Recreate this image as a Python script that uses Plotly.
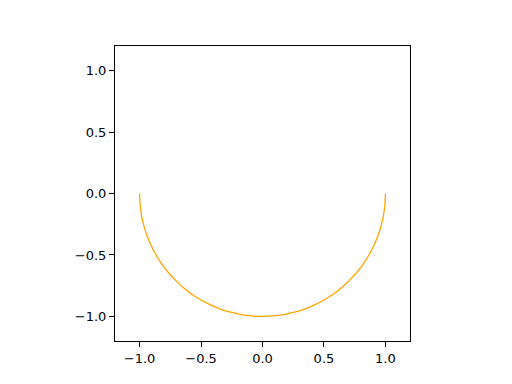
import plotly.graph_objects as go

# Points of the lower semicircle (5-degree steps)
x_vals = [-1.000, -0.996, -0.985, -0.966, -0.940, -0.906, -0.866, -0.819, -0.766, -0.707,
          -0.643, -0.574, -0.500, -0.423, -0.342, -0.259, -0.174, -0.087, 0.000,
          0.087, 0.174, 0.259, 0.342, 0.423, 0.500, 0.574, 0.643, 0.707,
          0.766, 0.819, 0.866, 0.906, 0.940, 0.966, 0.985, 0.996, 1.000]
y_vals = [0.000, -0.087, -0.174, -0.259, -0.342, -0.423, -0.500, -0.574, -0.643, -0.707,
          -0.766, -0.819, -0.866, -0.906, -0.940, -0.966, -0.985, -0.996, -1.000,
          -0.996, -0.985, -0.966, -0.940, -0.906, -0.866, -0.819, -0.766, -0.707,
          -0.643, -0.574, -0.500, -0.423, -0.342, -0.259, -0.174, -0.087, 0.000]
tick_vals = [-1.0, -0.5, 0.0, 0.5, 1.0]

fig = go.Figure()
fig.add_trace(go.Scatter(x=x_vals, y=y_vals, mode="lines",
                         line=dict(color="#ffa500", width=1.3, shape="spline"),
                         hoverinfo="skip"))

axis_common = dict(
    range=[-1.2, 1.2], tickvals=tick_vals, tickformat=".1f",
    showgrid=False, zeroline=False,
    showline=True, linecolor="black", linewidth=1, mirror=True,
    ticks="outside", ticklen=5, tickwidth=1, tickcolor="black",
    tickfont=dict(family="DejaVu Sans", size=13, color="black"),
)

fig.update_layout(
    width=512, height=384,
    margin=dict(l=115, r=102, t=46, b=43),
    paper_bgcolor="white", plot_bgcolor="white",
    showlegend=False,
    xaxis=axis_common,
    yaxis=axis_common,
)

fig.write_html("out.html")
